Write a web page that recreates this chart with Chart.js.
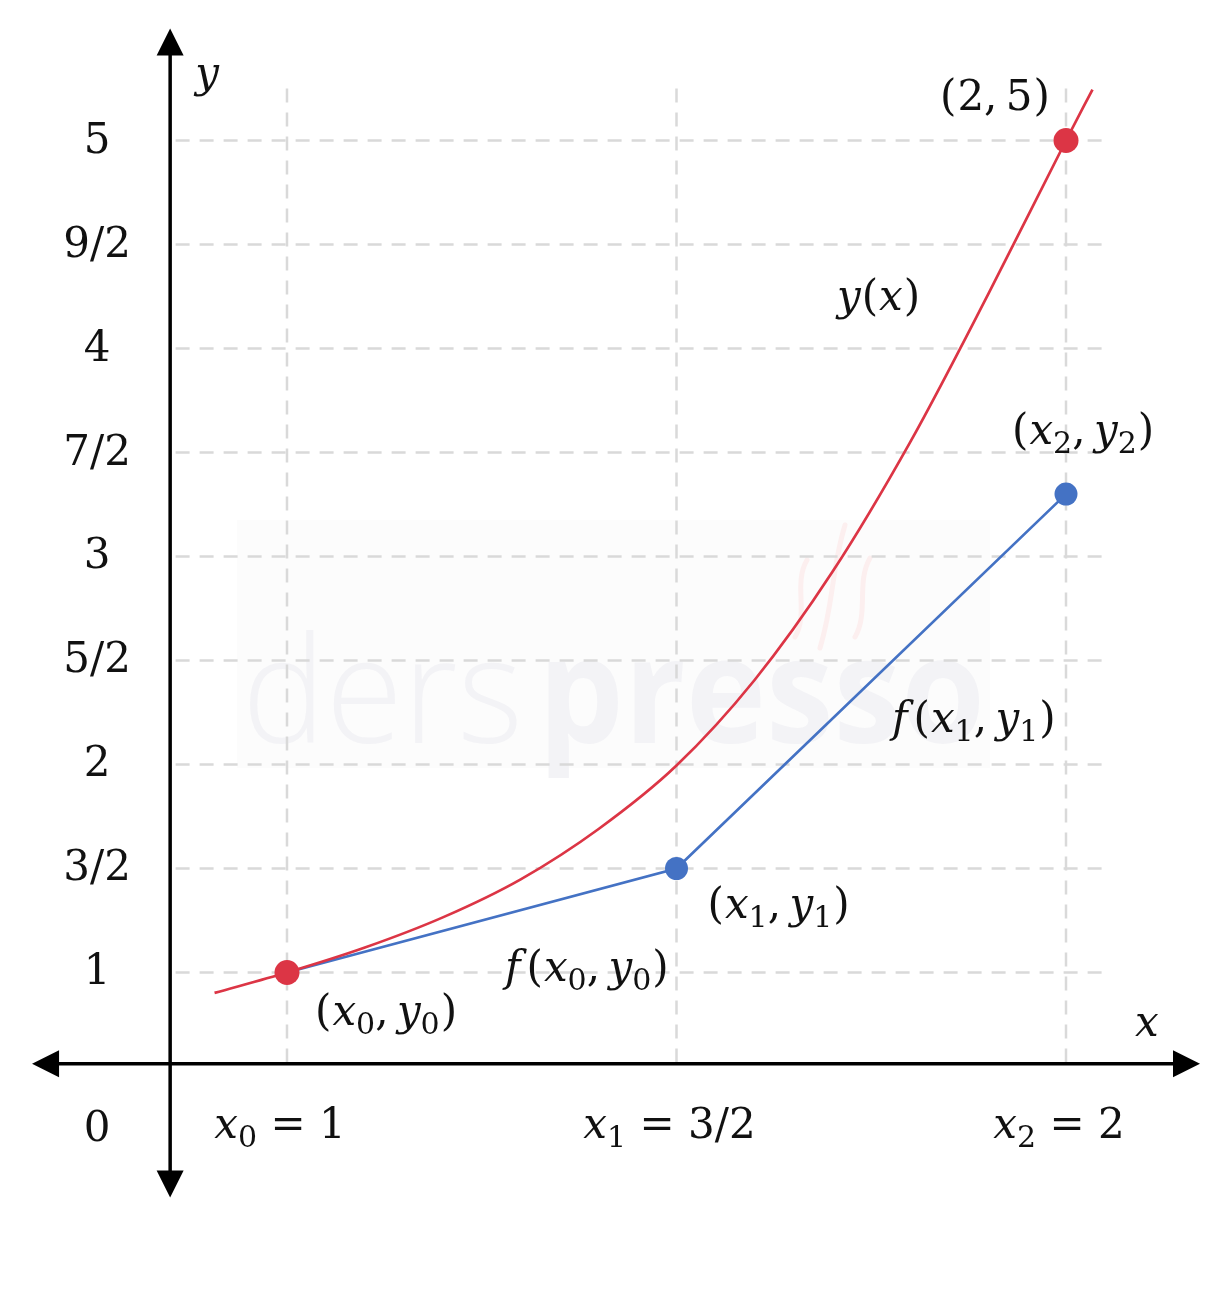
<!DOCTYPE html>
<html><head><meta charset="utf-8">
<script src="https://cdn.jsdelivr.net/npm/chart.js@4/dist/chart.umd.min.js"></script>
<style>html,body{margin:0;padding:0;background:#fff}canvas{display:block}</style>
</head><body>
<canvas id="c" width="1229" height="1294"></canvas>
<script>
// ---------- DATA ----------
const X_TICKS = [1, 1.5, 2];
const X_TICK_LABELS = ['x_0 = 1', 'x_1 = 3/2', 'x_2 = 2'];
const Y_TICKS = [1, 1.5, 2, 2.5, 3, 3.5, 4, 4.5, 5];
const Y_TICK_LABELS = ['1', '3/2', '2', '5/2', '3', '7/2', '4', '9/2', '5'];
const ORIGIN_LABEL = '0';
const EXACT_CURVE_X = [0.907, 1.0, 1.1, 1.2, 1.3, 1.4, 1.5, 1.6, 1.7, 1.8, 1.9, 2.0, 2.034];
const EXACT_CURVE_Y = [0.902, 1.0, 1.12, 1.265, 1.448, 1.69, 1.995, 2.405, 2.925, 3.55, 4.26, 5.0, 5.245];
const EXACT_POINTS_X = [1, 2];
const EXACT_POINTS_Y = [1, 5];
const EULER_X = [1, 1.5, 2];
const EULER_Y = [1, 1.5, 3.3];
const ANNOTATION_TEXT = ['(2,\u20095)', 'y(x)', '(x_2,\u2009y_2)', 'f(x_1,\u2009y_1)', '(x_1,\u2009y_1)', 'f(x_0,\u2009y_0)', '(x_0,\u2009y_0)'];
const AXIS_NAMES = ['x', 'y'];

// ---------- LAYOUT / STYLE ----------
const VIEW = { xMin: 0.63158, xMax: 2.20924, yMin: -0.5457, yMax: 5.6755 };
const AX = { yAxisAt: 0.85, xAxisAt: 0.561, yTop: 5.538, yBottom: -0.0817, xLeft: 0.6727, xRight: 2.172, arrow: 27, width: 3.5 };
const GRID = { xStart: 0.857, xEnd: 2.05, yTop: 5.25 };
const ANN_POS = [
  { ax: 2, ay: 5, dx: -127, dy: -31 },
  { ax: 1.706, ay: 4.183, dx: 0, dy: 0 },
  { ax: 2, ay: 3.3, dx: -55, dy: -50 },
  { ax: 1.7766, ay: 2.154, dx: 0, dy: 0 },
  { ax: 1.5, ay: 1.5, dx: 30, dy: 50 },
  { ax: 1.2798, ay: 0.9615, dx: 0, dy: 0 },
  { ax: 1, ay: 1, dx: 27, dy: 53 }
];
const RED = '#dc3545', BLUE = '#4472c4', GRIDC = '#d9d9d9', INK = '#111';
const FONT = '"DejaVu Serif", "Liberation Serif", serif';
const MAIN = 42, SUB = 30, SUB_DY = 9;

function parse(str) {
  const out = [];
  for (let i = 0; i < str.length; i++) {
    const ch = str[i];
    if (ch === '_') { out.push({ t: str[i + 1], sub: true }); i++; continue; }
    out.push({ t: ch, it: /[a-z]/i.test(ch) });
  }
  return out;
}
function fontOf(r) { return (r.it ? 'italic ' : '') + (r.sub ? SUB : MAIN) + 'px ' + FONT; }
function drawMath(ctx, str, x, y, align) {
  const rs = parse(str);
  let w = 0;
  rs.forEach(r => {
    ctx.font = fontOf(r);
    r.w = ctx.measureText(r.t).width + (r.t === 'f' ? 5 : 0) + (r.t === '(' || r.t === ')' ? 2 : 0);
    w += r.w;
  });
  let cx = align === 'center' ? x - w / 2 : x;
  ctx.fillStyle = INK; ctx.textBaseline = 'alphabetic'; ctx.textAlign = 'left';
  rs.forEach(r => {
    ctx.font = fontOf(r);
    const off = (r.t === '(' || r.t === ')') ? 1 : 0;
    ctx.fillText(r.t, cx + off, y + (r.sub ? SUB_DY : 0));
    cx += r.w;
  });
}

const pts = (xs, ys) => xs.map((x, i) => ({ x, y: ys[i] }));

const gridSets = [];
X_TICKS.forEach(x => gridSets.push({ data: [{ x, y: GRID.yTop }, { x, y: AX.xAxisAt }] }));
Y_TICKS.forEach(y => gridSets.push({ data: [{ x: GRID.xStart, y }, { x: GRID.xEnd, y }] }));
gridSets.forEach(d => Object.assign(d, { showLine: true, borderColor: GRIDC, borderWidth: 2.5, borderDash: [14, 10], pointRadius: 0, order: 10, borderCapStyle: 'butt' }));

const watermark = {
  id: 'watermark',
  beforeDatasetsDraw(chart) {
    const ctx = chart.ctx; ctx.save();
    ctx.fillStyle = '#fcfcfc'; ctx.fillRect(237, 520, 753, 248);
    ctx.fillStyle = '#f3f3f6'; ctx.textBaseline = 'alphabetic'; ctx.textAlign = 'left';
    const parts = [['ders', '300 148px "Open Sans"', 242, 281], ['presso', '700 148px "Open Sans"', 538, 447]];
    parts.forEach(([t, f, x0, tw]) => {
      ctx.font = f; const w = ctx.measureText(t).width;
      ctx.save(); ctx.translate(x0, 743); ctx.scale(tw / w, 1); ctx.fillText(t, 0, 0); ctx.restore();
    });
    ctx.strokeStyle = '#fcefef'; ctx.lineWidth = 5; ctx.lineCap = 'round';
    [[807, 560, 795, 637], [845, 525, 820, 648], [870, 558, 855, 637]].forEach(([x1, y1, x2, y2]) => {
      const my = (y1 + y2) / 2;
      ctx.beginPath(); ctx.moveTo(x1, y1);
      ctx.bezierCurveTo(x1 - 14, my - 15, x2 + 14, my + 15, x2, y2); ctx.stroke();
    });
    ctx.restore();
  }
};

const overlay = {
  id: 'overlay',
  afterDatasetsDraw(chart) {
    const ctx = chart.ctx, sx = chart.scales.x, sy = chart.scales.y;
    const X = v => sx.getPixelForValue(v), Y = v => sy.getPixelForValue(v);
    ctx.save();
    const ax = X(AX.yAxisAt), ay = Y(AX.xAxisAt);
    const t = Y(AX.yTop), b = Y(AX.yBottom), l = X(AX.xLeft), r = X(AX.xRight), a = AX.arrow, h = a / 2;
    ctx.strokeStyle = '#000'; ctx.fillStyle = '#000'; ctx.lineWidth = AX.width; ctx.lineCap = 'butt';
    ctx.beginPath(); ctx.moveTo(ax, t + a - 1); ctx.lineTo(ax, b - a + 1); ctx.stroke();
    ctx.beginPath(); ctx.moveTo(l + a - 1, ay); ctx.lineTo(r - a + 1, ay); ctx.stroke();
    const tri = (p) => { ctx.beginPath(); ctx.moveTo(p[0], p[1]); ctx.lineTo(p[2], p[3]); ctx.lineTo(p[4], p[5]); ctx.closePath(); ctx.fill(); };
    tri([ax, t, ax - h, t + a, ax + h, t + a]);
    tri([ax, b, ax - h, b - a, ax + h, b - a]);
    tri([l, ay, l + a, ay - h, l + a, ay + h]);
    tri([r, ay, r - a, ay - h, r - a, ay + h]);

    Y_TICKS.forEach((v, i) => drawMath(ctx, Y_TICK_LABELS[i], ax - 73, Y(v) + 12, 'center'));
    X_TICKS.forEach((v, i) => drawMath(ctx, X_TICK_LABELS[i], X(v) - 7, ay + 74, 'center'));
    drawMath(ctx, ORIGIN_LABEL, ax - 73, ay + 77, 'center');
    drawMath(ctx, AXIS_NAMES[0], X(2.0886), ay - 28, 'left');
    drawMath(ctx, AXIS_NAMES[1], ax + 25, Y(5.255), 'left');
    ANNOTATION_TEXT.forEach((s, i) => {
      const p = ANN_POS[i];
      drawMath(ctx, s, X(p.ax) + p.dx, Y(p.ay) + p.dy, 'left');
    });
    ctx.restore();
  }
};

new Chart(document.getElementById('c'), {
  type: 'scatter',
  data: {
    datasets: [
      { data: pts(EXACT_POINTS_X, EXACT_POINTS_Y), showLine: false, pointRadius: 12.5, pointBackgroundColor: RED, pointBorderWidth: 0, order: 0 },
      { data: pts(EXACT_CURVE_X, EXACT_CURVE_Y), showLine: true, borderColor: RED, borderWidth: 2.7, pointRadius: 0, cubicInterpolationMode: 'monotone', order: 1 },
      { data: pts(EULER_X, EULER_Y), showLine: true, borderColor: BLUE, borderWidth: 2.7, pointRadius: [0, 11.5, 11.5], pointBackgroundColor: BLUE, pointBorderWidth: 0, order: 2 },
      ...gridSets
    ]
  },
  options: {
    responsive: false, animation: false, devicePixelRatio: 1,
    layout: { padding: 0, autoPadding: false },
    plugins: { legend: { display: false }, tooltip: { enabled: false } },
    events: [],
    scales: {
      x: { type: 'linear', min: VIEW.xMin, max: VIEW.xMax, display: false },
      y: { type: 'linear', min: VIEW.yMin, max: VIEW.yMax, display: false }
    }
  },
  plugins: [watermark, overlay]
});
</script>
</body></html>
